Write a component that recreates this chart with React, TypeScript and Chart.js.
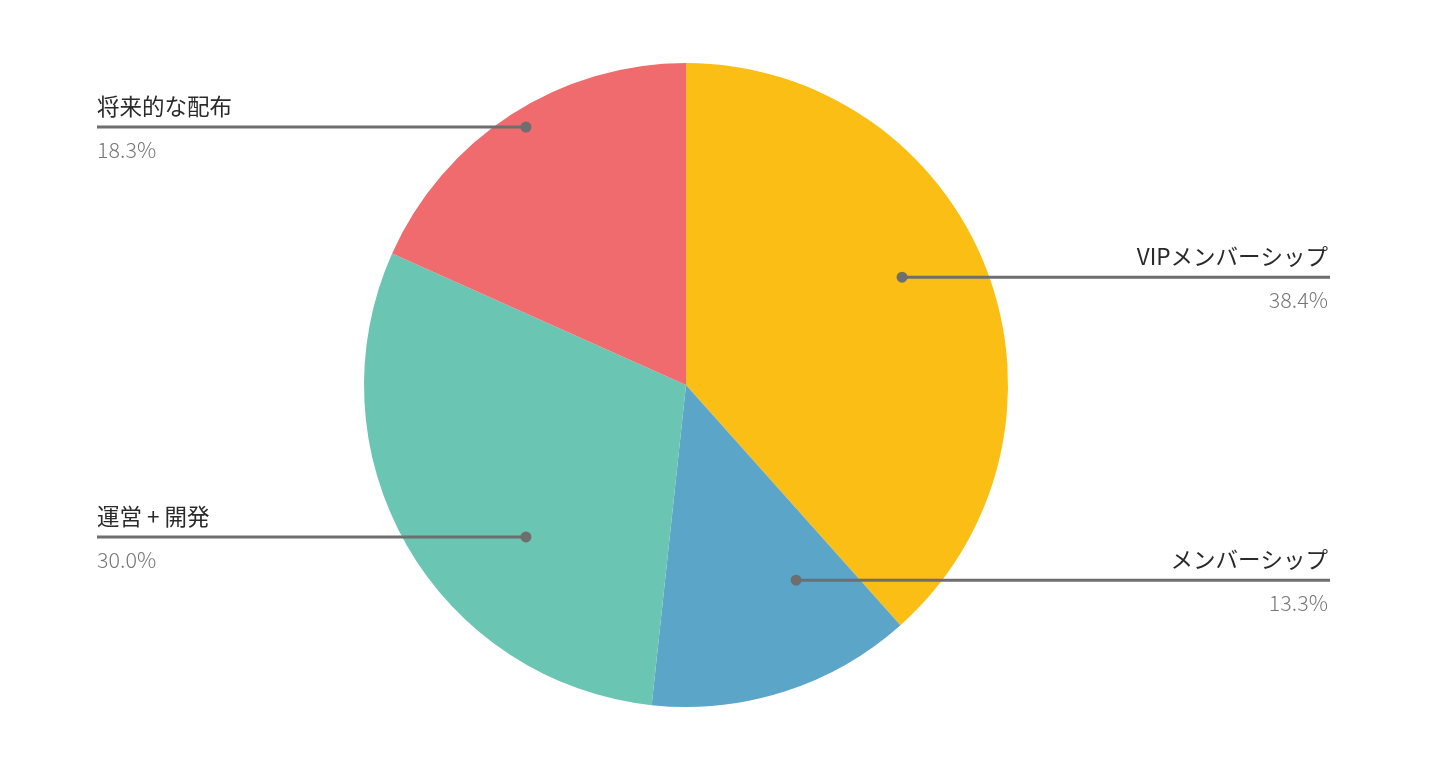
import React, { useEffect, useRef } from "react";
import { Chart, registerables } from "chart.js";

Chart.register(...registerables);

const categories = ["VIPメンバーシップ", "メンバーシップ", "運営 + 開発", "将来的な配布"];
const values = [38.4, 13.3, 30.0, 18.3];
const colors = ["#FBBE14", "#5BA5C9", "#6BC5B3", "#EF6B6D"];
// label anchor inside each slice: [x, y] as fractions of the radius, relative to the centre
const anchorFx = [0.671, 0.342, -0.497, -0.497];
const anchorFy = [-0.335, 0.606, 0.472, -0.801];
const labelSide = ["right", "right", "left", "left"];

const labelPlugin = {
  id: "leaderLabels",
  afterDraw(chart: any) {
    const meta = chart.getDatasetMeta(0);
    const arc = meta.data[0];
    if (!arc) return;
    const cx = arc.x;
    const cy = arc.y;
    const r = arc.outerRadius;
    const ctx = chart.ctx;
    const total = values.reduce((a, b) => a + b, 0);
    const leftX = 97;
    const rightX = 1330;
    ctx.save();
    categories.forEach((name, i) => {
      const px = cx + anchorFx[i] * r;
      const py = cy + anchorFy[i] * r;
      const right = labelSide[i] === "right";
      const endX = right ? rightX : leftX;
      ctx.strokeStyle = "#6e6e6e";
      ctx.lineWidth = 3;
      ctx.beginPath();
      ctx.moveTo(px, py);
      ctx.lineTo(endX, py);
      ctx.stroke();
      ctx.fillStyle = "#6e6e6e";
      ctx.beginPath();
      ctx.arc(px, py, 5.5, 0, Math.PI * 2);
      ctx.fill();
      ctx.textAlign = right ? "right" : "left";
      ctx.textBaseline = "middle";
      ctx.fillStyle = "#2a2a2a";
      ctx.font = '400 22.5px "Noto Sans CJK JP", sans-serif';
      ctx.fillText(name, endX - (right ? 2 : 0), py - 21);
      ctx.fillStyle = "#767676";
      ctx.font = '300 21.5px "Noto Sans CJK JP", sans-serif';
      const pct = ((values[i] / total) * 100).toFixed(1) + "%";
      ctx.fillText(pct, endX - (right ? 2 : 0), py + 23);
    });
    ctx.restore();
  },
};

export default function App() {
  const ref = useRef<HTMLCanvasElement>(null);
  useEffect(() => {
    document.body.style.margin = "0";
    const chart = new Chart(ref.current!, {
      type: "pie",
      data: {
        labels: categories,
        datasets: [
          {
            data: values,
            backgroundColor: colors,
            borderWidth: 0,
          },
        ],
      },
      options: {
        responsive: false,
        animation: false,
        layout: { padding: { top: 63, bottom: 63, left: 300, right: 384 } },
        plugins: {
          legend: { display: false },
          tooltip: { enabled: false },
        },
      },
      plugins: [labelPlugin],
    });
    return () => chart.destroy();
  }, []);
  return (
    <div style={{ position: "fixed", left: 0, top: 0, width: 1456, height: 770, background: "#fff" }}>
      <canvas ref={ref} width={1456} height={770} />
    </div>
  );
}
